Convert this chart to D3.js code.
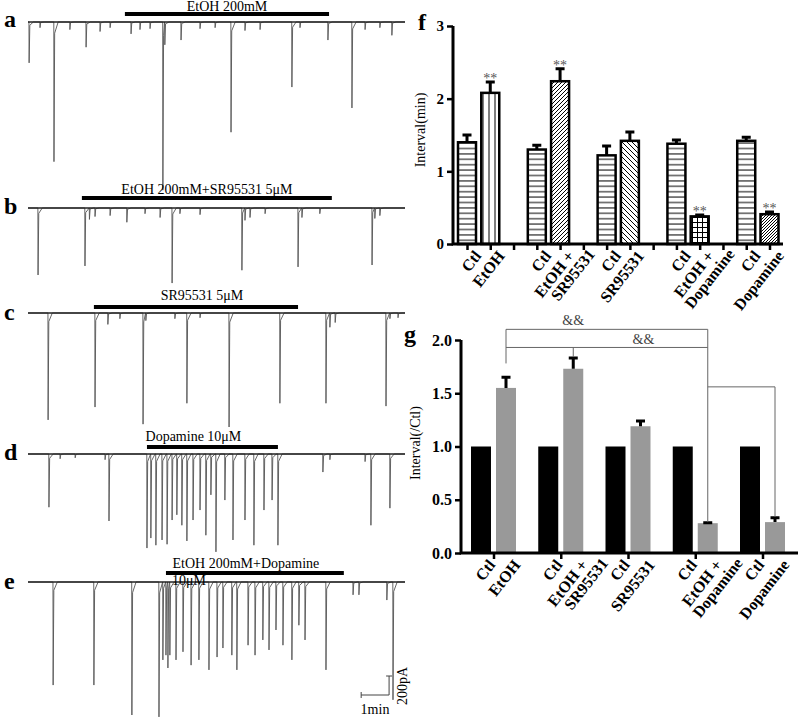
<!DOCTYPE html>
<html>
<head>
<meta charset="utf-8">
<script src="https://cdnjs.cloudflare.com/ajax/libs/d3/7.8.5/d3.min.js"></script>
<style>
  body { margin: 0; background: #fff; }
  svg { display: block; }
  text { font-family: "Liberation Serif", "Times New Roman", serif; }
</style>
</head>
<body>
<script>
// ---------- data: current traces (time in min, amplitude in pA) ----------
var traceNames = ["a", "b", "c", "d", "e"];
var drugLabels = ["EtOH 200mM", "EtOH 200mM+SR95531 5μM", "SR95531 5μM", "Dopamine 10μM", "EtOH 200mM+Dopamine"];
var drugStart = [3.47, 1.93, 2.36, 4.26, 4.94];
var drugEnd = [10.78, 10.88, 9.67, 8.95, 11.31];

var spikesA = [[0.04, -430], [0.43, -60], [0.93, -1470], [1.5, -80], [2.08, -265], [2.58, -100], [2.94, -60],
  [3.69, -125], [4.01, -80], [4.37, -70], [4.83, -1770], [4.9, -240], [5.48, -190], [6.16, -70], [6.7, -60],
  [7.27, -1160], [7.77, -90], [8.31, -80], [9.45, -685], [9.74, -60], [10.74, -190], [11.6, -905],
  [12.07, -80], [12.6, -60], [13.03, -140]];
var spikesB = [[0.36, -705], [2.04, -610], [2.2, -120], [2.4, -90], [2.94, -80], [3.54, -150], [4.19, -60],
  [4.73, -100], [5.16, -790], [5.44, -60], [6.16, -70], [7.66, -655], [7.77, -130], [7.95, -100], [8.49, -60],
  [9.67, -620], [9.81, -100], [10.45, -60], [12.32, -600], [12.42, -110], [12.6, -80]];
var spikesC = [[0.72, -1125], [2.4, -990], [2.86, -120], [3.29, -60], [4.12, -1170], [4.22, -80], [5.26, -60],
  [5.69, -950], [6.16, -50], [7.2, -1200], [9.02, -950], [10.67, -950], [10.81, -150], [11.0, -100],
  [12.82, -980], [12.96, -60], [13.25, -50]];
var spikesD = [[0.75, -560], [1.15, -50], [1.69, -40], [2.76, -60], [2.9, -705], [4.26, -990], [4.4, -885],
  [4.58, -960], [4.8, -905], [4.98, -950], [5.16, -695], [5.33, -640], [5.51, -750], [5.69, -915],
  [5.91, -695], [6.16, -590], [6.37, -855], [6.55, -430], [6.73, -1030], [7.05, -485], [7.34, -905],
  [7.77, -695], [8.09, -960], [8.45, -590], [8.74, -485], [8.95, -960], [10.56, -190], [10.81, -60],
  [12.07, -80], [12.28, -750], [12.96, -570]];
var spikesE = [[0.9, -1085], [2.36, -1085], [3.72, -1400], [4.69, -1420], [4.83, -820], [4.94, -770],
  [5.01, -905], [5.08, -770], [5.3, -820], [5.55, -735], [5.84, -875], [6.12, -820], [6.48, -925],
  [6.77, -790], [6.98, -695], [7.3, -770], [7.48, -925], [7.88, -665], [8.13, -770], [8.41, -610],
  [8.63, -715], [8.88, -505], [9.13, -665], [9.45, -820], [9.7, -455], [9.92, -610], [10.67, -925],
  [11.64, -135], [11.85, -135], [12.85, -190], [13.07, -1240]];
var traceSpikes = [spikesA, spikesB, spikesC, spikesD, spikesE];

// ---------- data: panel f (interval, min) ----------
var fLabels = ["Ctl", "EtOH", "Ctl", "EtOH +|SR95531", "Ctl", "SR95531", "Ctl", "EtOH +|Dopamine", "Ctl", "Dopamine"];
var fMeans = [1.40, 2.08, 1.30, 2.24, 1.22, 1.42, 1.38, 0.38, 1.42, 0.41];
var fErrors = [0.10, 0.15, 0.06, 0.17, 0.13, 0.12, 0.05, 0.02, 0.05, 0.03];
var fStars = ["", "**", "", "**", "", "", "", "**", "", "**"];
var fTicks = [0, 1, 2, 3];

// ---------- data: panel g (interval / Ctl) ----------
var gLabels = fLabels;
var gMeans = [1.0, 1.55, 1.0, 1.73, 1.0, 1.19, 1.0, 0.28, 1.0, 0.29];
var gErrors = [0, 0.10, 0, 0.10, 0, 0.05, 0, 0.005, 0, 0.04];
var gTicks = [0, 0.5, 1.0, 1.5, 2.0];
// brackets: [bar index, value] points
var gBrackets = [
  [[1, 1.78], [1, 2.10], [7, 2.10], [7, 0.29]],
  [[1, 1.93], [7, 1.93]],
  [[3, 1.84], [3, 1.93]],
  [[7, 1.56], [9, 1.56], [9, 0.34]]
];

// ---------- layout ----------
var svg = d3.select("body").append("svg").attr("width", 800).attr("height", 720);
var rowBase = [22, 208, 313, 454, 582];
var barY = [14, 198, 307, 447, 573];
var labelY = [11, 194, 300, 441, 568];
var labelShift = [0, 0, 6, -19, -9];
var letterY = [27, 214, 320, 460, 589];
var serif = "'Liberation Serif', 'Times New Roman', serif";
var sans = "'Liberation Sans', Arial, sans-serif";

var tx = d3.scaleLinear().domain([0, 13.5]).range([28, 405]);
var ty = d3.scaleLinear().domain([0, -200]).range([0, 19]);

function tracePoints(spikes) {
  var s = spikes.slice().sort(function(p, q) { return p[0] - q[0]; });
  var pts = [[0, 0]];
  s.forEach(function(sp, i) {
    var next = i < s.length - 1 ? s[i + 1][0] : 13.5;
    pts.push([sp[0] - 0.006, 0]);
    pts.push([sp[0], sp[1]]);
    pts.push([Math.min(sp[0] + 0.025, next - 0.02), sp[1] * 0.08]);
    pts.push([Math.min(sp[0] + 0.15, next - 0.01), 0]);
  });
  pts.push([13.5, 0]);
  return pts;
}

var line = d3.line().x(function(d) { return tx(d[0]); }).y(function(d) { return ty(d[1]); });

traceNames.forEach(function(name, i) {
  var g = svg.append("g").attr("transform", "translate(0," + rowBase[i] + ")");
  g.append("path")
    .attr("d", line(tracePoints(traceSpikes[i])))
    .attr("fill", "none")
    .attr("stroke", "#555")
    .attr("stroke-width", 0.9);
  g.append("line")
    .attr("x1", tx(0)).attr("x2", tx(13.5))
    .attr("stroke", "#222").attr("stroke-width", 1.4);

  svg.append("text")
    .attr("x", 4).attr("y", letterY[i])
    .attr("font-size", 24).attr("font-weight", "bold")
    .text(name);

  svg.append("line")
    .attr("x1", tx(drugStart[i])).attr("x2", tx(drugEnd[i]))
    .attr("y1", barY[i]).attr("y2", barY[i])
    .attr("stroke", "#000").attr("stroke-width", 4);

  svg.append("text")
    .attr("x", (tx(drugStart[i]) + tx(drugEnd[i])) / 2 + labelShift[i])
    .attr("y", labelY[i])
    .attr("text-anchor", "middle")
    .attr("font-size", 14)
    .text(drugLabels[i]);
});

// second line of e label, partly under the bar
svg.append("text").attr("x", 172).attr("y", 585).attr("font-size", 14).text("10μM");

// scale bar
var sb = svg.append("g").attr("stroke", "#444").attr("stroke-width", 1).attr("fill", "none");
var sbY = 695, sbX = tx(11.93);
sb.append("path").attr("d", "M" + sbX + "," + sbY + "H" + tx(12.93) + "V" + (sbY - (ty(-200) - ty(0))));
sb.append("path").attr("d", "M" + sbX + "," + (sbY - 3) + "V" + (sbY + 3));
sb.append("path").attr("d", "M" + (tx(12.93) - 3) + "," + (sbY - 19) + "H" + (tx(12.93) + 3));
svg.append("text").attr("x", 375).attr("y", 714).attr("text-anchor", "middle").attr("font-size", 14).text("1min");
svg.append("text").attr("transform", "translate(407,686) rotate(-90)").attr("text-anchor", "middle")
  .attr("font-size", 14).text("200pA");

// ---------- patterns for panel f ----------
var defs = svg.append("defs");
function pattern(id, size, paths) {
  var p = defs.append("pattern").attr("id", id).attr("patternUnits", "userSpaceOnUse")
    .attr("width", size).attr("height", size);
  p.append("rect").attr("width", size).attr("height", size).attr("fill", "#fff");
  paths.forEach(function(d) {
    p.append("path").attr("d", d).attr("stroke", "#000").attr("stroke-width", 1);
  });
}
pattern("hline", 5.4, ["M0,2.7H5.4"]);
pattern("vline", 6, ["M3,0V6"]);
pattern("diagUp", 4, ["M0,4L4,0", "M-1,1L1,-1", "M3,5L5,3"]);
pattern("diagDown", 5, ["M0,0L5,5", "M-1,4L1,6", "M4,-1L6,1"]);
pattern("grid", 5, ["M0,2.5H5", "M2.5,0V5"]);
pattern("diagDense", 3, ["M0,3L3,0", "M-1,1L1,-1", "M2,4L4,2"]);
var fFills = ["hline", "vline", "hline", "diagUp", "hline", "diagDown", "hline", "grid", "hline", "diagDense"];

function xLabels(sel, cx, y0, labels) {
  labels.forEach(function(lab, i) {
    var parts = lab.split("|");
    var t = sel.append("text")
      .attr("transform", "translate(" + (cx(i) + 6) + "," + y0 + ") rotate(-52)")
      .attr("text-anchor", "end")
      .attr("font-size", 16).attr("font-weight", "bold");
    parts.forEach(function(p, k) {
      t.append("tspan").attr("x", k * 14).attr("dy", k === 0 ? "0.72em" : "0.95em").text(p);
    });
  });
}

// ---------- panel f ----------
var f = svg.append("g");
var fy = d3.scaleLinear().domain([0, 3]).range([244, 26]);
var fSlot = d3.scalePoint().domain(d3.range(14)).range([467, 769.5]);
function fx(i) { return fSlot(i + Math.floor(i / 2)); }

f.selectAll("rect.bar").data(fMeans).enter().append("rect")
  .attr("class", "bar")
  .attr("x", function(d, i) { return fx(i) - 9; })
  .attr("y", function(d) { return fy(d); })
  .attr("width", 18)
  .attr("height", function(d) { return fy(0) - fy(d); })
  .attr("fill", function(d, i) { return "url(#" + fFills[i] + ")"; })
  .attr("stroke", "#000").attr("stroke-width", 2.5);

f.selectAll("path.err").data(fMeans).enter().append("path")
  .attr("class", "err")
  .attr("d", function(d, i) {
    var c = fx(i), top = fy(d + fErrors[i]);
    return "M" + c + "," + fy(d) + "V" + top + "M" + (c - 4.5) + "," + top + "H" + (c + 4.5);
  })
  .attr("stroke", "#000").attr("stroke-width", 3).attr("fill", "none");

f.selectAll("text.star").data(fStars).enter().append("text")
  .attr("class", "star")
  .attr("x", function(d, i) { return fx(i); })
  .attr("y", function(d, i) { return fy(fMeans[i] + fErrors[i]) + 1; })
  .attr("text-anchor", "middle").attr("font-size", 14).attr("fill", "#555")
  .text(function(d) { return d; });

var fAxisY = f.append("g").attr("transform", "translate(453,0)")
  .call(d3.axisLeft(fy).tickValues(fTicks).tickFormat(d3.format("d")).tickSize(6).tickSizeOuter(0));
fAxisY.select(".domain").remove();
fAxisY.selectAll("line").attr("stroke-width", 2.5);
fAxisY.selectAll("text").attr("font-family", serif).attr("font-weight", "bold").attr("font-size", 15);
f.append("path").attr("d", "M453,26V244H783").attr("fill", "none").attr("stroke", "#000").attr("stroke-width", 3);
var fAxisX = f.append("g").attr("transform", "translate(0,244)")
  .call(d3.axisBottom(fSlot).tickSize(6).tickFormat(""));
fAxisX.select(".domain").remove();
fAxisX.selectAll("line").attr("stroke-width", 2.5);
xLabels(f, fx, 249, fLabels);

f.append("text").attr("transform", "translate(425,130) rotate(-90)").attr("text-anchor", "middle")
  .attr("font-size", 14).text("Interval(min)");
f.append("text").attr("x", 418).attr("y", 30).attr("font-size", 24).attr("font-weight", "bold").text("f");

// ---------- panel g ----------
var gp = svg.append("g");
var gy = d3.scaleLinear().domain([0, 2]).range([553, 340]);
var gGroup = d3.scalePoint().domain(d3.range(5)).range([493.5, 762.5]);
function gx(i) { return gGroup(Math.floor(i / 2)) + (i % 2 === 0 ? -12.5 : 12.5); }

gp.selectAll("rect.bar").data(gMeans).enter().append("rect")
  .attr("class", "bar")
  .attr("x", function(d, i) { return gx(i) - 10; })
  .attr("y", function(d) { return gy(d); })
  .attr("width", 20)
  .attr("height", function(d) { return gy(0) - gy(d); })
  .attr("fill", function(d, i) { return i % 2 === 0 ? "#000" : "#999"; });

gp.selectAll("path.err").data(gMeans).enter().append("path")
  .attr("class", "err")
  .attr("d", function(d, i) {
    if (!gErrors[i]) return null;
    var c = gx(i), top = gy(d + gErrors[i]);
    return "M" + c + "," + gy(d) + "V" + top + "M" + (c - 4.5) + "," + top + "H" + (c + 4.5);
  })
  .attr("stroke", "#000").attr("stroke-width", 3).attr("fill", "none");

var bracketLine = d3.line().x(function(d) { return gx(d[0]); }).y(function(d) { return gy(d[1]); });
gp.selectAll("path.bracket").data(gBrackets).enter().append("path")
  .attr("class", "bracket")
  .attr("d", bracketLine)
  .attr("fill", "none").attr("stroke", "#666").attr("stroke-width", 1);
gp.append("text").attr("x", gx(3)).attr("y", gy(2.14)).attr("text-anchor", "middle")
  .attr("font-size", 14).attr("fill", "#444").text("&&");
gp.append("text").attr("x", (gx(3) + gx(7)) / 2 + 3).attr("y", gy(1.96)).attr("text-anchor", "middle")
  .attr("font-size", 14).attr("fill", "#444").text("&&");

var gAxisY = gp.append("g").attr("transform", "translate(461,0)")
  .call(d3.axisLeft(gy).tickValues(gTicks).tickFormat(d3.format(".1f")).tickSize(6).tickSizeOuter(0));
gAxisY.select(".domain").remove();
gAxisY.selectAll("line").attr("stroke-width", 2.5);
gAxisY.selectAll("text").attr("font-family", sans).attr("font-weight", "bold").attr("font-size", 16);
gp.append("path").attr("d", "M461,340V553H798").attr("fill", "none").attr("stroke", "#000").attr("stroke-width", 3);
var gAxisX = gp.append("g").attr("transform", "translate(0,553)")
  .call(d3.axisBottom(gGroup).tickSize(6).tickFormat(""));
gAxisX.select(".domain").remove();
gAxisX.selectAll("line").attr("stroke-width", 2.5);
xLabels(gp, gx, 558, gLabels);

gp.append("text").attr("transform", "translate(420,443) rotate(-90)").attr("text-anchor", "middle")
  .attr("font-size", 14).text("Interval(/Ctl)");
gp.append("text").attr("x", 404).attr("y", 342).attr("font-size", 24).attr("font-weight", "bold").text("g");
</script>
</body>
</html>
